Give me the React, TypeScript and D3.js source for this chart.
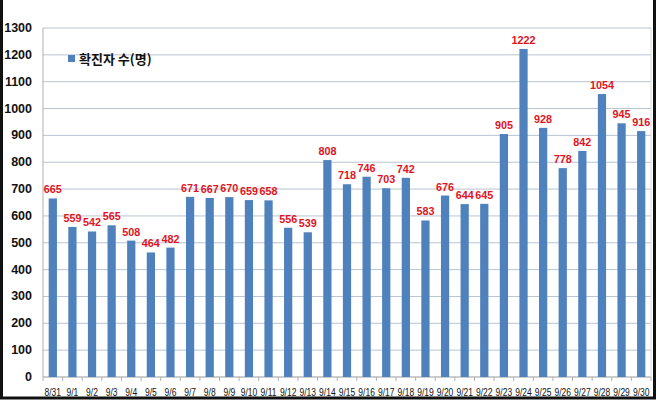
import React from "react";
import * as d3 from "d3";

const dates = ["8/31","9/1","9/2","9/3","9/4","9/5","9/6","9/7","9/8","9/9","9/10","9/11","9/12","9/13","9/14","9/15","9/16","9/17","9/18","9/19","9/20","9/21","9/22","9/23","9/24","9/25","9/26","9/27","9/28","9/29","9/30"];
const cases = [665,559,542,565,508,464,482,671,667,670,659,658,556,539,808,718,746,703,742,583,676,644,645,905,1222,928,778,842,1054,945,916];
const yTicks = [0,100,200,300,400,500,600,700,800,900,1000,1100,1200,1300];
const seriesName = "확진자 수(명)";

const W = 658, H = 402;
const left = 43, right = 651, top = 28, bottom = 377;

export default function App() {
  const x = d3.scaleBand<string>().domain(dates).range([left, right]).paddingInner(0.58).paddingOuter(0.29);
  const y = d3.scaleLinear().domain([0, 1300]).range([bottom, top]);
  const bw = x.bandwidth();
  const full = d3.scaleBand<string>().domain(dates).range([left, right]);
  return (
    <svg width={W} height={H} style={{ position: "absolute", left: 0, top: 0, background: "#fff" }}>
      <rect x={0} y={0} width={W} height={H} fill="#fff" />
      {yTicks.map(t => (
        <line key={"g" + t} x1={left} x2={right} y1={y(t)} y2={y(t)} stroke={t === 0 ? "#9a9a9a" : "#b9c4d0"} strokeWidth={1} />
      ))}
      <line x1={left} x2={left} y1={top} y2={bottom + 4} stroke="#b0b0b0" />
      <line x1={right} x2={right} y1={top} y2={bottom} stroke="#d8d8d8" />
      {dates.map((d) => (
        <line key={"t" + d} x1={full(d)! + full.step()} x2={full(d)! + full.step()} y1={bottom} y2={bottom + 4} stroke="#b0b0b0" />
      ))}
      {yTicks.map(t => (
        <text key={"yl" + t} x={32} y={y(t)} textAnchor="end" dominantBaseline="central"
          fontFamily="'Liberation Sans', Arial, sans-serif" fontWeight="bold" fontSize={12.5} fill="#111">{t}</text>
      ))}
      {dates.map((d, i) => (
        <rect key={"b" + d} x={x(d)!} y={y(cases[i])} width={bw} height={bottom - y(cases[i])} fill="#4f81bd" />
      ))}
      {dates.map((d, i) => (
        <text key={"v" + d} x={x(d)! + bw / 2} y={y(cases[i]) - 5} textAnchor="middle"
          fontFamily="'Liberation Sans', Arial, sans-serif" fontWeight="bold" fontSize={10.8} fill="#e0141e">{cases[i]}</text>
      ))}
      {dates.map((d) => (
        <text key={"xl" + d} transform={`translate(${x(d)! + bw / 2},396) scale(0.74,1)`} textAnchor="middle"
          fontFamily="'Liberation Sans', Arial, sans-serif" fontSize={11.5} fill="#111">{d}</text>
      ))}
      <rect x={68} y={55} width={7} height={7} fill="#4f81bd" />
      <text x={79} y={58.5} dominantBaseline="central" fontFamily="'Noto Sans CJK KR', sans-serif" fontWeight={700} fontSize={13} fill="#111">{seriesName}</text>
      <rect x={1.5} y={-3} width={653} height={401} fill="none" stroke="#111" strokeWidth={3} />
    </svg>
  );
}
